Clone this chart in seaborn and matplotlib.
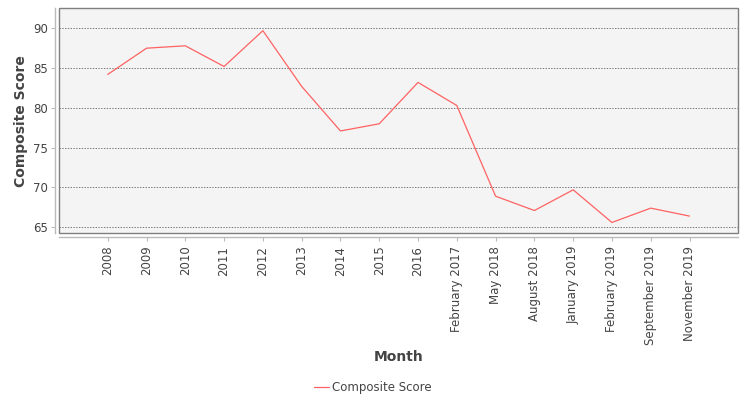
import pandas as pd
import seaborn as sns
import matplotlib.pyplot as plt
from matplotlib.patches import Rectangle

# chart data
months = ['2008', '2009', '2010', '2011', '2012', '2013', '2014', '2015', '2016',
          'February 2017', 'May 2018', 'August 2018', 'January 2019',
          'February 2019', 'September 2019', 'November 2019']
scores = [84.2, 87.5, 87.8, 85.2, 89.7, 82.7, 77.1, 78.0, 83.2,
          80.3, 68.9, 67.1, 69.7, 65.6, 67.4, 66.4]
y_ticks = [65, 70, 75, 80, 85, 90]

df = pd.DataFrame({'Month': months, 'Composite Score': scores})

sns.set_style('white')
plt.rcParams['font.family'] = ['DejaVu Sans']

fig = plt.figure(figsize=(7.5, 4), dpi=100)
ax = fig.add_axes([0.079, 0.417, 0.905, 0.562])
ax.set_facecolor('#f4f4f4')

sns.lineplot(data=df, x='Month', y='Composite Score', sort=False, ax=ax,
             color='#ff6262', linewidth=0.9, label='Composite Score')

ax.set_xlim(-1.25, len(months) - 1 + 1.25)
ax.set_ylim(64.25, 92.5)
ax.set_yticks(y_ticks)
ax.set_xticks(range(len(months)))
ax.set_xticklabels(months)

# dotted horizontal grid
ax.grid(False)
ax.grid(True, axis='y', linestyle=(0, (2, 2)), color='#444444', linewidth=0.5)
ax.set_axisbelow(True)

# plot box plus offset axis lines
for side in ['top', 'right']:
    ax.spines[side].set_visible(False)
for side in ['left', 'bottom']:
    ax.spines[side].set_visible(True)
    ax.spines[side].set_position(('outward', 3))
    ax.spines[side].set_color('#bbbbbb')
    ax.spines[side].set_linewidth(1)
ax.add_patch(Rectangle((0, 0), 1, 1, transform=ax.transAxes, fill=False,
                       edgecolor='#7f7f7f', linewidth=1, clip_on=False, zorder=5))

ax.tick_params(axis='both', which='both', length=3, width=0.8, color='#bbbbbb',
               labelsize=8.5, labelcolor='#444444', pad=2)
ax.tick_params(axis='x', direction='out', bottom=True, labelrotation=90, pad=3)
ax.tick_params(axis='y', direction='out', left=True)

ax.set_ylabel('Composite Score', fontsize=10, fontweight='bold', color='#444444', labelpad=4)
ax.set_xlabel('Month', fontsize=10, fontweight='bold', color='#444444')
ax.xaxis.set_label_coords(0.5, -0.52)

leg = ax.legend(loc='center', bbox_to_anchor=(0.462, -0.685), frameon=False,
                fontsize=8.5, handlelength=1.3, handletextpad=0.3)
for t in leg.get_texts():
    t.set_color('#444444')

fig.savefig('out.png', dpi=100)
